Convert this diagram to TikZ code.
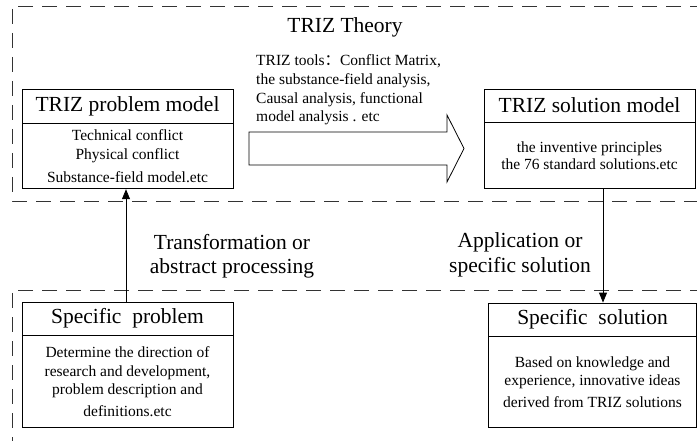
\documentclass[tikz,border=0pt]{standalone}
\usepackage{fontspec}
\setmainfont{Liberation Serif}
\newfontfamily\cjk{Noto Sans CJK SC}
\usetikzlibrary{arrows.meta, positioning}
\tikzset{zone/.style={dash pattern=on 15pt off 9pt, line width=0.8pt, black!80}}
\tikzset{headbox/.style={draw, line width=0.8pt, inner sep=0pt, minimum height=33pt, font=\fontsize{21.5}{24}\selectfont}}
\tikzset{bodybox/.style={draw, line width=0.8pt, inner sep=0pt, align=center, font=\fontsize{15.5}{18.5}\selectfont}}
\tikzset{bigtext/.style={align=center, font=\fontsize{21.5}{23.5}\selectfont}}
\tikzset{flow/.style={line width=0.8pt, -{Triangle[length=10pt, width=8pt]}}}

\begin{document}
\begin{tikzpicture}[x=1pt, y=-1pt]
  \useasboundingbox (0,0) rectangle (697,441);
  % theory and practice zones
  \draw[zone] (705,6) -- (12,6) -- (12,201) -- (705,201);
  \draw[zone] (705,290) -- (12,290) -- (12,450);
  \node[bigtext] (theory) at (345,27) {TRIZ Theory};
  % models
  \node[headbox, minimum width=211pt, minimum height=34pt] (pmhead) at (127.5,106) {TRIZ problem model};
  \node[bodybox, minimum width=211pt, minimum height=65pt, below=0pt of pmhead] (pmbody) {Technical conflict\\Physical conflict\\[5pt]Substance-field model.etc};
  \node[headbox, minimum width=211pt] (smhead) at (589.5,105.5) {TRIZ solution model};
  \node[bodybox, minimum width=211pt, minimum height=66pt, below=0pt of smhead] (smbody) {the inventive principles\\[-1pt]the 76 standard solutions.etc};
  \node[align=left, inner sep=0pt, anchor=west, font=\fontsize{15.5}{18.7}\selectfont] (tools) at (256,90) {TRIZ tools{\cjk ：}Conflict Matrix,\\the substance-field analysis,\\Causal analysis, functional\\model analysis . etc};
  \draw[line width=0.8pt] (249,132) -- (447,132) -- (447,115) -- (464,148.5) -- (447,182) -- (447,165) -- (249,165) -- cycle;
  % specific problem and solution
  \node[headbox, minimum width=211pt] (sphead) at (127.5,318.5) {Specific\ \ problem};
  \node[bodybox, minimum width=211pt, minimum height=92pt, below=0pt of sphead] (spbody) {Determine the direction of\\research and development,\\problem description and\\[3.5pt]definitions.etc};
  \node[headbox, minimum width=208pt] (sshead) at (592.5,319.5) {Specific\ \ solution};
  \node[bodybox, minimum width=208pt, minimum height=91pt, below=0pt of sshead] (ssbody) {Based on knowledge and\\experience, innovative ideas\\[3.5pt]derived from TRIZ solutions};
  % links
  \draw[flow] ([xshift=-1.5pt]sphead.north) -- ([xshift=-1.5pt]pmbody.south);
  \draw[flow] ([xshift=13.5pt]smbody.south) -- ([xshift=10.5pt]sshead.north);
  \node[bigtext] (abstr) at (232,256.5) {Transformation or\\abstract processing};
  \node[bigtext, font=\fontsize{21.5}{25}\selectfont] (apply) at (520,254.5) {Application or\\specific solution};
\end{tikzpicture}
\end{document}
